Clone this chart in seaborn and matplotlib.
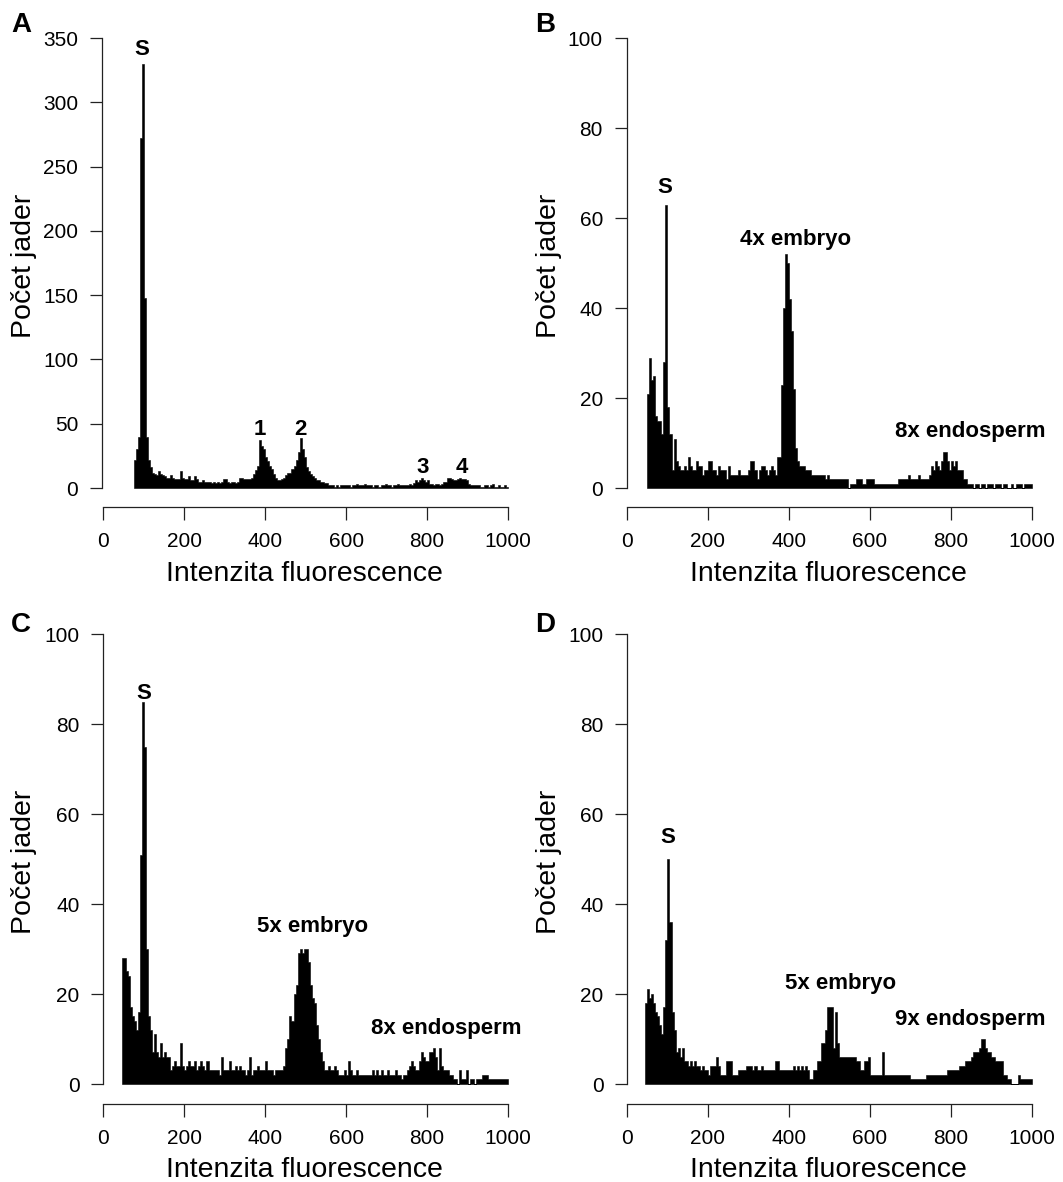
import numpy as np
import pandas as pd
import matplotlib
matplotlib.use("Agg")
import matplotlib.pyplot as plt
import seaborn as sns

# ---------------- data (counts per 5-unit channel bin) ----------------
BIN = 5

a_start = 75
a_counts = [
    22, 30, 40, 272, 330, 148, 40, 22, 16, 12,
    11, 10, 13, 11, 10, 9, 8, 8, 10, 8,
    7, 7, 7, 13, 8, 7, 7, 9, 6, 6,
    9, 7, 5, 5, 6, 5, 5, 5, 4, 5,
    4, 5, 4, 5, 7, 7, 5, 4, 5, 5,
    4, 5, 8, 8, 7, 7, 7, 7, 8, 11,
    14, 17, 37, 33, 30, 24, 21, 17, 15, 11,
    8, 6, 6, 7, 8, 10, 12, 12, 15, 17,
    22, 28, 39, 30, 24, 16, 13, 11, 9, 8,
    6, 6, 5, 5, 4, 4, 2, 2, 2, 1,
    2, 1, 2, 2, 2, 2, 2, 1, 2, 2,
    3, 2, 2, 2, 3, 2, 2, 2, 1, 2,
    2, 1, 2, 2, 3, 2, 2, 1, 2, 2,
    3, 2, 2, 2, 2, 2, 3, 2, 4, 6,
    5, 6, 8, 6, 5, 6, 3, 3, 2, 3,
    3, 2, 3, 5, 5, 8, 8, 7, 6, 6,
    7, 8, 7, 7, 6, 3, 2, 2, 2, 2,
    2, 1, 1, 2, 2, 1, 2, 3, 1, 1,
    2, 1, 1, 2, 1,
]

b_start = 50
b_counts = [
    21, 29, 24, 25, 16, 15, 15, 12, 28, 63,
    18, 12, 4, 11, 6, 5, 4, 4, 5, 4,
    7, 5, 4, 4, 6, 5, 5, 3, 4, 4,
    6, 6, 4, 4, 3, 5, 4, 4, 4, 2,
    5, 3, 3, 3, 3, 4, 3, 3, 3, 3,
    4, 6, 6, 4, 2, 4, 5, 5, 4, 3,
    4, 5, 4, 3, 7, 7, 23, 40, 52, 50,
    42, 35, 22, 9, 6, 5, 5, 5, 4, 4,
    4, 3, 3, 3, 3, 3, 3, 3, 2, 3,
    2, 2, 2, 2, 2, 2, 2, 2, 2, 0,
    1, 1, 1, 2, 2, 2, 1, 1, 2, 2,
    2, 2, 1, 1, 1, 1, 1, 1, 1, 1,
    1, 1, 1, 1, 2, 2, 2, 2, 2, 3,
    2, 2, 2, 2, 3, 2, 2, 2, 2, 3,
    5, 4, 6, 5, 4, 6, 8, 8, 6, 4,
    6, 5, 6, 4, 4, 4, 2, 2, 1, 1,
    1, 0, 1, 1, 0, 1, 1, 0, 1, 1,
    1, 0, 1, 1, 1, 0, 1, 1, 0, 0,
    1, 0, 1, 1, 1, 0, 1, 1, 1, 1,
]

c_start = 45
c_counts = [
    28, 28, 25, 24, 17, 15, 14, 12, 16, 51,
    85, 75, 30, 15, 12, 7, 11, 7, 6, 9,
    6, 7, 6, 6, 3, 4, 5, 4, 4, 9,
    4, 3, 4, 5, 4, 4, 5, 3, 4, 5,
    4, 3, 5, 3, 3, 3, 3, 3, 2, 6,
    3, 3, 3, 5, 3, 3, 4, 3, 4, 3,
    3, 2, 3, 6, 2, 3, 3, 4, 3, 3,
    3, 5, 3, 3, 3, 2, 3, 3, 3, 3,
    4, 8, 10, 15, 14, 20, 22, 29, 30, 29,
    30, 30, 27, 22, 19, 18, 13, 10, 7, 5,
    3, 3, 4, 3, 3, 4, 3, 2, 2, 2,
    3, 2, 5, 3, 2, 2, 3, 2, 2, 2,
    2, 2, 2, 2, 3, 2, 3, 2, 3, 2,
    2, 3, 2, 2, 2, 3, 2, 2, 1, 2,
    2, 3, 4, 5, 4, 3, 3, 5, 7, 6,
    5, 5, 7, 7, 8, 6, 3, 8, 4, 3,
    3, 3, 2, 2, 1, 1, 0, 3, 1, 1,
    3, 0, 1, 1, 0, 1, 1, 1, 2, 2,
    2, 1, 1, 1, 1, 1, 1, 1, 1, 1, 1,
]

d_start = 45
d_counts = [
    18, 21, 19, 20, 18, 16, 15, 13, 11, 17,
    32, 50, 36, 16, 12, 7, 8, 6, 8, 5,
    5, 4, 5, 4, 5, 4, 4, 3, 4, 3,
    3, 2, 4, 4, 4, 6, 4, 2, 2, 2,
    5, 5, 5, 2, 2, 2, 3, 3, 3, 3,
    4, 4, 4, 3, 4, 3, 3, 4, 3, 3,
    3, 3, 3, 3, 5, 5, 3, 3, 3, 3,
    3, 3, 3, 4, 3, 4, 3, 4, 3, 4,
    3, 1, 1, 3, 3, 5, 5, 9, 9, 12,
    17, 17, 17, 8, 16, 9, 6, 6, 6, 6,
    6, 6, 6, 6, 5, 5, 3, 3, 5, 5,
    6, 2, 2, 2, 2, 2, 2, 7, 2, 2,
    2, 2, 2, 2, 2, 2, 2, 2, 2, 2,
    2, 1, 1, 1, 1, 1, 1, 1, 1, 2,
    2, 2, 2, 2, 2, 2, 2, 2, 2, 3,
    3, 3, 3, 3, 3, 4, 4, 4, 5, 5,
    5, 6, 7, 7, 7, 8, 10, 10, 8, 7,
    7, 6, 6, 5, 5, 5, 5, 2, 2, 1,
    1, 0, 0, 0, 2, 1, 1, 1, 1, 1, 1,
]

x_ticks = [0, 200, 400, 600, 800, 1000]
a_yticks = [0, 50, 100, 150, 200, 250, 300, 350]
bcd_yticks = [0, 20, 40, 60, 80, 100]

x_label = "Intenzita fluorescence"
y_label = "Počet jader"

a_notes = [("S", 95, 336.8), ("1", 387, 41.2), ("2", 488, 41.2), ("3", 788, 11.4), ("4", 886, 11.4)]
b_notes = [("S", 94, 65.6), ("4x embryo", 417, 54.0), ("8x endosperm", 849, 11.3)]
c_notes = [("S", 99, 85.5), ("5x embryo", 518, 33.8), ("8x endosperm", 848, 11.1)]
d_notes = [("S", 101, 53.6), ("5x embryo", 528, 21.0), ("9x endosperm", 849, 13.0)]

# ---------------- style ----------------
sns.set_theme(style="white")
plt.rcParams["font.family"] = ["Liberation Sans", "DejaVu Sans"]
plt.rcParams["text.color"] = "black"
plt.rcParams["axes.labelcolor"] = "black"

W, H = 1063, 1182
fig = plt.figure(figsize=(W / 100, H / 100), dpi=100)


def make_ax(x0, y0, sx, sy, xlim, ylim):
    left = x0 + xlim[0] * sx
    right = x0 + xlim[1] * sx
    bottom = y0 - ylim[0] * sy
    top = y0 - ylim[1] * sy
    ax = fig.add_axes([left / W, 1 - bottom / H, (right - left) / W, (bottom - top) / H])
    return ax


panels = [
    ("A", a_start, a_counts, a_yticks, a_notes, 103.3, 488, 0.4047, 1.2857, (-4, 1040), (-14.5, 364),
     (11, 32.5), (24, 266), (304.5, 574)),
    ("B", b_start, b_counts, bcd_yticks, b_notes, 627, 488, 0.4047, 4.5, (-1, 1040), (-4.3, 104),
     (535, 32.5), (548.5, 266), (828, 574)),
    ("C", c_start, c_counts, bcd_yticks, c_notes, 103.3, 1084, 0.4047, 4.5, (0, 1040), (-4.4, 104),
     (11, 632.5), (24, 862), (304.5, 1170)),
    ("D", d_start, d_counts, bcd_yticks, d_notes, 627, 1084, 0.4047, 4.5, (0, 1040), (-4.4, 104),
     (535, 632.5), (548.5, 862), (828, 1170)),
]

for (letter, start, counts, yticks, notes, x0, y0, sx, sy, xlim, ylim,
     lpos, ylpos, xlpos) in panels:
    ax = make_ax(x0, y0, sx, sy, xlim, ylim)
    counts = np.asarray(counts, dtype=float)
    edges = start + BIN * np.arange(len(counts) + 1)
    centers = edges[:-1] + BIN / 2
    df = pd.DataFrame({"intensity": centers, "count": counts})
    sns.histplot(data=df, x="intensity", weights="count", bins=list(edges), element="step",
                 fill=True, color="black", alpha=1, linewidth=0.4, edgecolor="black", ax=ax)
    ax.set_xlim(xlim)
    ax.set_ylim(ylim)
    ax.set_xticks(x_ticks)
    ax.set_yticks(yticks)
    ax.grid(False)
    for side in ("top", "right"):
        ax.spines[side].set_visible(False)
    ax.spines["left"].set_bounds(0, yticks[-1])
    ax.spines["bottom"].set_bounds(0, 1000)
    for side in ("left", "bottom"):
        ax.spines[side].set_color("#222222")
        ax.spines[side].set_linewidth(0.9)
    ax.tick_params(axis="both", which="both", bottom=True, left=True, direction="out",
                   length=9, width=0.9, color="#222222", labelsize=15,
                   labelcolor="black")
    ax.tick_params(axis="y", pad=8)
    ax.tick_params(axis="x", pad=9)

    ax.set_xlabel(x_label, fontsize=20.5, color="black")
    ax.set_ylabel(y_label, fontsize=20.5, color="black")
    ax.xaxis.label.set_va("center")
    ax.yaxis.label.set_va("center")
    ax.xaxis.set_label_coords(xlpos[0] / W, 1 - xlpos[1] / H, transform=fig.transFigure)
    ax.yaxis.set_label_coords(ylpos[0] / W, 1 - ylpos[1] / H, transform=fig.transFigure)

    for txt, xv, yv in notes:
        ax.text(xv, yv, txt, ha="center", va="baseline", fontsize=16, fontweight="bold",
                color="black")

    fig.text(lpos[0] / W, 1 - lpos[1] / H, letter, ha="left", va="baseline",
             fontsize=20, fontweight="bold", color="black")

fig.savefig("out.png", dpi=100, facecolor="white")
